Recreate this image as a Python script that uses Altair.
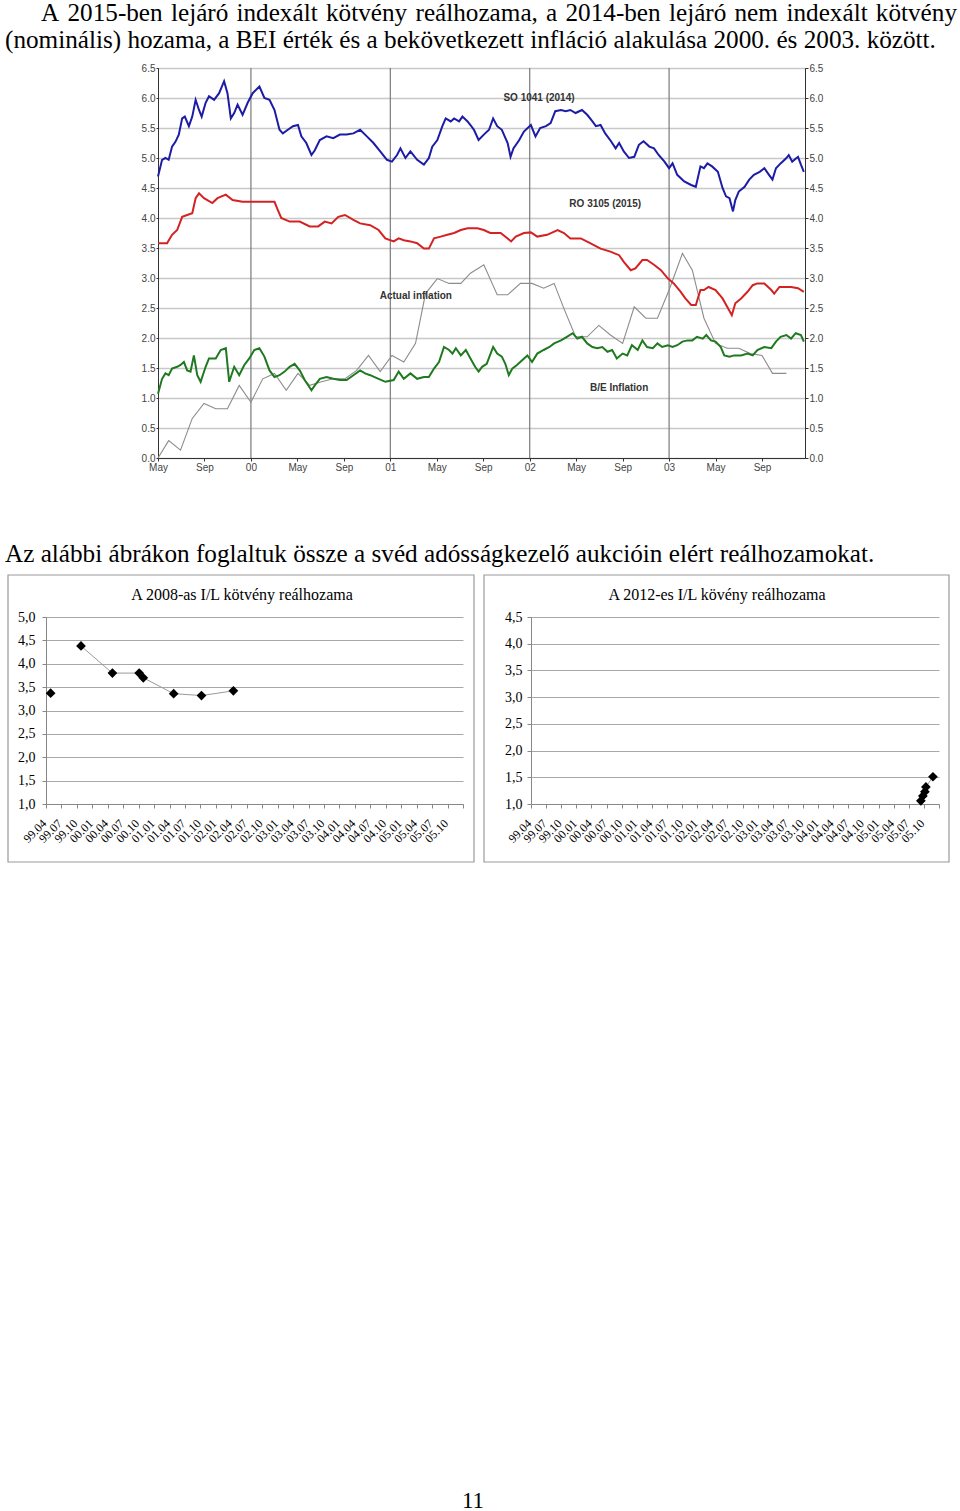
import json
import altair as alt
import pandas as pd

# ---------------- top chart data (x = months since May 1999) ----------------
blue_m = [0, 0.35, 0.64, 0.92, 1.21, 1.5, 1.79, 2.08, 2.31, 2.66, 2.95, 3.24, 3.53, 3.76, 4.10,
          4.39, 4.83, 5.26, 5.69, 5.98, 6.27, 6.56, 6.85, 7.28, 7.72, 8.15, 8.73, 9.16, 9.60, 10.03,
          10.46, 10.75, 11.18, 11.62, 12.05, 12.34, 12.77, 13.21, 13.50, 13.93, 14.51, 15.09, 15.66,
          16.24, 16.82, 17.40, 17.98, 18.55, 19.13, 19.71, 20.14, 20.58, 20.87, 21.30, 21.73, 22.31,
          22.89, 23.32, 23.61, 24.05, 24.48, 24.77, 25.20, 25.49, 25.92, 26.21, 26.65,
          26.9, 27.2, 27.6, 28.05, 28.5, 28.85, 29.2, 29.6, 30.1, 30.35, 30.6, 31.1, 31.5, 32.1, 32.5,
          32.9, 33.4, 33.8, 34.2, 34.7, 35.1, 35.5, 35.95, 36.5, 36.95, 37.4, 37.7, 38.1, 38.5, 39.0,
          39.4, 39.7, 40.1, 40.55, 41.0, 41.4, 41.8, 42.3, 42.7, 43.1, 43.6, 44.0, 44.3, 44.7, 45.3,
          45.9, 46.3, 46.7, 47.0, 47.3, 47.7, 48.2, 48.6, 48.9, 49.2, 49.5, 49.7, 50.0, 50.5, 50.9,
          51.3, 51.8, 52.2, 52.6, 52.9, 53.2, 53.6, 54.1, 54.3, 54.6, 55.1, 55.35, 55.6]
blue_v = [4.69, 4.97, 5.0, 4.97, 5.19, 5.27, 5.39, 5.66, 5.69, 5.53, 5.69, 5.97, 5.80, 5.69, 5.92,
          6.03, 5.97, 6.08, 6.28, 6.08, 5.66, 5.75, 5.89, 5.72, 5.92, 6.08, 6.19, 6.0, 5.97, 5.80,
          5.47, 5.41, 5.47, 5.53, 5.55, 5.36, 5.25, 5.05, 5.13, 5.30, 5.36, 5.33, 5.39,
          5.39, 5.41, 5.47, 5.36, 5.25, 5.11, 4.97, 4.94, 5.05, 5.16, 5.0, 5.11, 4.97,
          4.89, 5.0, 5.19, 5.30, 5.53, 5.66, 5.61, 5.66, 5.61, 5.69, 5.61,
          5.55, 5.47, 5.30, 5.39, 5.47, 5.66, 5.53, 5.47, 5.25, 5.02, 5.16, 5.30, 5.44, 5.55, 5.36,
          5.50, 5.53, 5.58, 5.78, 5.80, 5.78, 5.80, 5.75, 5.80, 5.72, 5.61, 5.53, 5.55, 5.41, 5.28,
          5.16, 5.25, 5.11, 5.0, 5.02, 5.22, 5.28, 5.19, 5.16, 5.05, 4.94, 4.83, 4.91, 4.72, 4.61,
          4.55, 4.52, 4.86, 4.83, 4.91, 4.86, 4.77, 4.50, 4.36, 4.33, 4.11, 4.30, 4.44, 4.52, 4.64,
          4.72, 4.77, 4.83, 4.72, 4.64, 4.83, 4.91, 5.0, 5.05, 4.94, 5.02, 4.89, 4.77]

red_m = [0, 0.78, 1.21, 1.65, 2.08, 2.51, 2.95, 3.24, 3.53, 3.96, 4.68, 5.12, 5.84, 6.42, 7.28,
         8.15, 9.02, 10.03, 10.32, 10.61, 11.33, 12.2, 13.06, 13.79, 14.36, 14.94, 15.52, 16.1,
         16.82, 17.4, 18.27, 18.99, 19.57, 20.29, 20.72, 21.16, 21.73, 22.31, 22.89, 23.32, 23.76,
         24.34, 24.91, 25.49, 26.07, 26.65,
         27.5, 28.05, 28.6, 29.5, 30.1, 30.4, 30.8, 31.5, 32.1, 32.65, 33.5, 34.4, 34.95, 35.5,
         36.4, 37.2, 38.1, 38.95, 39.7, 40.1, 40.7, 41.1, 41.7, 42.1, 42.7, 43.3, 43.9, 44.4, 45.0,
         45.4, 45.9, 46.3, 46.7, 47.0, 47.4, 48.0, 48.6, 49.0, 49.4, 49.7, 50.2, 50.75, 51.2, 51.6,
         52.2, 52.8, 53.05, 53.5, 54.1, 54.5, 55.1, 55.6]
red_v = [3.58, 3.58, 3.72, 3.80, 4.02, 4.05, 4.08, 4.33, 4.41, 4.33, 4.25, 4.33, 4.39, 4.30, 4.27,
         4.27, 4.27, 4.27, 4.13, 4.0, 3.94, 3.94, 3.86, 3.86, 3.94, 3.91, 4.02, 4.05,
         3.97, 3.91, 3.88, 3.80, 3.66, 3.61, 3.66, 3.63, 3.61, 3.58, 3.49, 3.49, 3.66,
         3.69, 3.72, 3.75, 3.80, 3.83,
         3.83, 3.80, 3.75, 3.75, 3.66, 3.61, 3.69, 3.75, 3.76, 3.69, 3.72, 3.80, 3.75, 3.66,
         3.66, 3.58, 3.49, 3.44, 3.38, 3.27, 3.13, 3.16, 3.30, 3.30, 3.22, 3.13, 2.99, 2.91, 2.77,
         2.66, 2.55, 2.55, 2.80, 2.80, 2.85, 2.80, 2.66, 2.52, 2.38, 2.58, 2.66, 2.77, 2.88, 2.91,
         2.91, 2.80, 2.74, 2.85, 2.85, 2.85, 2.83, 2.77]

green_m = [0, 0.35, 0.64, 0.92, 1.21, 1.65, 1.94, 2.23, 2.51, 2.8, 3.09, 3.38, 3.67, 4.10, 4.39,
           4.97, 5.40, 5.84, 6.13, 6.56, 6.99, 7.43, 7.86, 8.29, 8.73, 9.16, 9.6, 10.03, 10.46, 10.9,
           11.33, 11.76, 12.2, 12.63, 13.21, 13.5, 13.93, 14.51, 15.09, 15.66, 16.24, 16.82, 17.4,
           17.83, 18.27, 18.99, 19.57, 20.29, 20.72, 21.16, 21.73, 22.31, 22.89, 23.32, 23.76,
           24.19, 24.62, 25.06, 25.35, 25.64, 26.07, 26.5,
           26.9, 27.3, 27.6, 27.9, 28.3, 28.85, 29.2, 29.6, 29.9, 30.2, 30.5, 30.9, 31.35, 31.8, 32.2,
           32.65, 33.2, 33.7, 34.1, 34.7, 35.2, 35.7, 36.1, 36.5, 36.95, 37.4, 37.8, 38.25, 38.7, 39.1,
           39.5, 40.0, 40.4, 40.8, 41.3, 41.7, 42.1, 42.6, 43.0, 43.4, 43.9, 44.3, 44.7, 45.15, 45.6,
           46.0, 46.4, 46.9, 47.2, 47.6, 48.0, 48.45, 48.75, 49.2, 49.6, 50.2, 50.75, 51.2, 51.6, 52.2,
           52.8, 53.2, 53.6, 54.1, 54.5, 54.9, 55.35, 55.6]
green_v = [1.07, 1.32, 1.41, 1.38, 1.49, 1.52, 1.55, 1.60, 1.46, 1.44, 1.71, 1.38, 1.27, 1.52, 1.66,
           1.66, 1.80, 1.83, 1.27, 1.52, 1.38, 1.55, 1.66, 1.80, 1.83, 1.69, 1.46, 1.35, 1.38, 1.44,
           1.52, 1.57, 1.46, 1.30, 1.13, 1.21, 1.32, 1.35, 1.32, 1.30, 1.30, 1.38, 1.46,
           1.41, 1.38, 1.32, 1.27, 1.30, 1.44, 1.32, 1.41, 1.32, 1.35, 1.35, 1.49,
           1.60, 1.85, 1.80, 1.74, 1.83, 1.71, 1.80,
           1.66, 1.52, 1.44, 1.52, 1.57, 1.85, 1.74, 1.69, 1.57, 1.38, 1.49, 1.55, 1.63, 1.71, 1.60,
           1.74, 1.80, 1.85, 1.91, 1.96, 2.02, 2.08, 1.99, 2.02, 1.91, 1.85, 1.83, 1.85, 1.77, 1.80,
           1.66, 1.74, 1.71, 1.88, 1.80, 1.96, 1.85, 1.83, 1.91, 1.85, 1.88, 1.85, 1.88, 1.94, 1.96,
           1.96, 2.02, 1.99, 2.05, 1.96, 1.94, 1.85, 1.71, 1.69, 1.71, 1.71, 1.74, 1.71, 1.80, 1.85,
           1.83, 1.94, 2.02, 2.05, 1.99, 2.08, 2.05, 1.94]

gray_m = [0, 0.92, 1.94, 2.95, 3.96, 4.97, 5.98, 6.99, 8.0, 9.02, 10.03, 11.04, 12.05, 13.06, 14.08,
          15.09, 16.1, 17.1, 18.12, 19.13, 20.14, 21.16, 22.17, 23.03, 24.05, 25.06, 26.07,
          26.9, 28.05, 29.2, 30.1, 31.2, 32.2, 33.2, 34.1, 34.95, 35.95, 36.95, 37.95, 38.95, 40.0,
          41.0, 42.0, 43.0, 44.0, 45.15, 46.0, 47.0, 48.0, 49.0, 50.0, 51.0, 52.0, 52.9, 54.1]
gray_v = [0.0, 0.29, 0.13, 0.66, 0.91, 0.82, 0.82, 1.21, 0.93, 1.32, 1.41, 1.13, 1.41, 1.21, 1.27,
          1.32, 1.32, 1.46, 1.71, 1.44, 1.71, 1.60, 1.91, 2.74, 2.99, 2.91, 2.91,
          3.08, 3.22, 2.72, 2.72, 2.91, 2.91, 2.83, 2.91, 2.49, 2.02, 2.02, 2.21, 2.05, 1.91,
          2.52, 2.33, 2.33, 2.80, 3.41, 3.13, 2.33, 1.91, 1.83, 1.83, 1.74, 1.71, 1.41, 1.41]

top_tick_months = [0, 4, 8, 12, 16, 20, 24, 28, 32, 36, 40, 44, 48, 52]
top_tick_labels = ["May", "Sep", "00", "May", "Sep", "01", "May", "Sep", "02", "May", "Sep", "03", "May", "Sep"]
year_starts = [8, 20, 32, 44]
top_y_ticks = [0, 0.5, 1, 1.5, 2, 2.5, 3, 3.5, 4, 4.5, 5, 5.5, 6, 6.5]

annot_text = ["SO 1041 (2014)", "RO 3105 (2015)", "Actual inflation", "B/E Inflation"]
annot_m = [32.8, 38.5, 22.2, 39.7]
annot_v = [6.0, 4.23, 2.70, 1.16]

# ---------------- small charts data (x = months since 1999.04) ----------------
small_tick_labels = ["99.04", "99.07", "99.10", "00.01", "00.04", "00.07", "00.10", "01.01", "01.04",
                     "01.07", "01.10", "02.01", "02.04", "02.07", "02.10", "03.01", "03.04", "03.07",
                     "03.10", "04.01", "04.04", "04.07", "04.10", "05.01", "05.04", "05.07", "05.10"]
quarter_bounds = list(range(0, 82, 3))

c1_m = [0.9, 6.8, 12.9, 18.1, 18.9, 24.8, 30.2, 36.4]
c1_v = [3.37, 4.38, 3.80, 3.80, 3.70, 3.36, 3.32, 3.42]
c1_seg = [0, 1, 1, 1, 1, 1, 1, 1]
c1_y_ticks = [1.0, 1.5, 2.0, 2.5, 3.0, 3.5, 4.0, 4.5, 5.0]

c2_m = [77.4, 77.8, 78.2, 78.4, 79.8]
c2_v = [1.06, 1.15, 1.23, 1.32, 1.51]
c2_seg = [0, 0, 0, 0, 0]
c2_y_ticks = [1.0, 1.5, 2.0, 2.5, 3.0, 3.5, 4.0, 4.5]

# ---------------- page texts ----------------
heading_1_words = ["A", "2015-ben", "lejáró", "indexált", "kötvény", "reálhozama,", "a",
                   "2014-ben", "lejáró", "nem", "indexált", "kötvény"]
heading_1_left = [41, 67.5, 171, 236.5, 326, 415.5, 546, 565.5, 669, 734.5, 786.5]  # justified line
heading_2 = "(nominális) hozama, a BEI érték és a bekövetkezett infláció alakulása 2000. és 2003. között."
mid_text = "Az alábbi ábrákon foglaltuk össze a svéd adósságkezelő aukcióin elért reálhozamokat."
title_1 = "A 2008-as I/L kötvény reálhozama"
title_2 = "A 2012-es I/L kövény reálhozama"
page_no = "11"

SANS = "Liberation Sans"
SERIF = "Liberation Serif"
BODY = 25.2


def js_list(lst):
    return json.dumps(lst).replace('"', "'")


def spacer(w, h=1):
    return alt.Chart(pd.DataFrame({"a": [0]})).mark_point(opacity=0).properties(width=w, height=h)


def text_layer(txt, x, y, align="left", size=BODY, font=SERIF, baseline="alphabetic"):
    return alt.Chart(pd.DataFrame({"t": [txt]})).mark_text(
        align=align, baseline=baseline, font=font, fontSize=size, color="black"
    ).encode(x=alt.value(x), y=alt.value(y), text="t:N")


# ---------------- top chart ----------------
x_top = alt.X(
    "m:Q",
    scale=alt.Scale(domain=[0, 55.7], nice=False, zero=False),
    axis=alt.Axis(values=top_tick_months,
                  labelExpr=f"{js_list(top_tick_labels)}[round(datum.value / 4)]",
                  grid=False, title=None, domainColor="#333333", tickColor="#333333",
                  tickSize=3, labelPadding=1, labelFont=SANS, labelFontSize=10,
                  labelColor="#444444", labelFlush=False, labelOverlap=False),
)
y_scale_top = alt.Scale(domain=[0, 6.5], nice=False, zero=True)
y_top = alt.Y(
    "v:Q", scale=y_scale_top,
    axis=alt.Axis(values=top_y_ticks, format=".1f", title=None, grid=True, gridColor="#c8c8c8",
                  gridWidth=1.5, domainColor="#333333", tickColor="#333333", tickSize=2,
                  labelPadding=1, labelFont=SANS, labelFontSize=10, labelColor="#444444",
                  labelFlush=False, labelOverlap=False),
)
y_top_right = alt.Y(
    "v:Q", scale=y_scale_top,
    axis=alt.Axis(orient="right", values=top_y_ticks, format=".1f", title=None, grid=False,
                  domainColor="#333333", tickColor="#333333", tickSize=3, labelPadding=1,
                  labelFont=SANS, labelFontSize=10, labelColor="#444444", labelFlush=False,
                  labelOverlap=False),
)

df_blue = pd.DataFrame({"m": blue_m, "v": blue_v})
df_red = pd.DataFrame({"m": red_m, "v": red_v})
df_green = pd.DataFrame({"m": green_m, "v": green_v})
df_gray = pd.DataFrame({"m": gray_m, "v": gray_v})
df_annot = pd.DataFrame({"m": annot_m, "v": annot_v, "t": annot_text})


def top_line(df, color, width):
    return alt.Chart(df).mark_line(color=color, strokeWidth=width).encode(x=x_top, y=y_top)


rules = alt.Chart(pd.DataFrame({"m": year_starts})).mark_rule(
    color="#7a7a7a", strokeWidth=1.2).encode(x=x_top)
annots = alt.Chart(df_annot).mark_text(
    font=SANS, fontWeight="bold", fontSize=10, color="#333333"
).encode(x=x_top, y=y_top, text="t:N")

inner = alt.layer(
    rules,
    top_line(df_gray, "#8c8c8c", 1.1),
    top_line(df_green, "#1f7a1f", 2),
    top_line(df_red, "#d42222", 2),
    top_line(df_blue, "#1c1ca6", 2),
    annots,
)
right_axis = alt.Chart(df_blue).mark_point(opacity=0).encode(x=x_top, y=y_top_right)
top_chart = alt.layer(inner, right_axis).resolve_scale(y="independent").properties(
    width=647, height=390, view=alt.ViewBackground(stroke="#333333", strokeWidth=1)
)


# ---------------- small charts ----------------
def small_chart(m, v, seg, ydom, yticks, title, title_x, box, ypad, width):
    df = pd.DataFrame({"m": m, "v": v, "seg": seg})
    xs = alt.X(
        "m:Q", scale=alt.Scale(domain=[0, 81], nice=False, zero=False),
        axis=alt.Axis(values=quarter_bounds,
                      labelExpr=f"datum.value >= 81 ? '' : {js_list(small_tick_labels)}[floor(datum.value / 3 + 0.01)]",
                      labelAngle=315, labelAlign="right", labelBaseline="middle", labelOffset=-2,
                      labelPadding=13, tickSize=4, tickColor="#888888", domainColor="#888888",
                      grid=False, title=None, labelFont=SERIF, labelFontSize=12, labelColor="black",
                      labelFlush=False, labelOverlap=False),
    )
    ys = alt.Y(
        "v:Q", scale=alt.Scale(domain=ydom, nice=False, zero=False),
        axis=alt.Axis(values=yticks,
                      labelExpr="replace(format(datum.value, '.1f'), '.', ',')",
                      grid=True, gridColor="#a8a8a8", gridWidth=1, domainColor="#888888",
                      tickColor="#888888", tickSize=4, labelPadding=ypad, title=None,
                      labelFont=SERIF, labelFontSize=14, labelColor="black",
                      labelFlush=False, labelOverlap=False),
    )
    frame = alt.Chart(pd.DataFrame({"a": [0]})).mark_rect(
        fillOpacity=0, stroke="#9a9a9a", strokeWidth=1.2
    ).encode(x=alt.value(box[0]), x2=alt.value(box[1]), y=alt.value(box[2]), y2=alt.value(box[3]))
    head = text_layer(title, title_x, -17, align="center", size=16)
    line = alt.Chart(df).mark_line(color="#9a9a9a", strokeWidth=1).encode(x=xs, y=ys, detail="seg:N")
    pts = alt.Chart(df).mark_point(shape="diamond", filled=True, size=95, color="black", opacity=1).encode(x=xs, y=ys)
    return alt.layer(frame, head, line, pts).properties(width=width, height=187)


chart1 = small_chart(c1_m, c1_v, c1_seg, [1.0, 5.0], c1_y_ticks, title_1, 196,
                     (-38, 428, -42, 245), 7, 417)
chart2 = small_chart(c2_m, c2_v, c2_seg, [1.0, 4.5], c2_y_ticks, title_2, 186,
                     (-47, 418, -42, 245), 5, 408)

# ---------------- page layout ----------------
heading_layers = [text_layer(w, x, 21) for w, x in zip(heading_1_words[:-1], heading_1_left)]
heading_layers.append(text_layer(heading_1_words[-1], 957, 21, align="right"))
heading_layers.append(text_layer(heading_2, 5, 48))
row1 = alt.layer(*heading_layers).properties(width=960, height=68)

# nested concat rows take no height in a flush layout, so a spacer row follows each one
row2 = alt.hconcat(spacer(158, 390), top_chart, spacing=0, bounds="flush")
row2_space = spacer(10, 390)

row3 = text_layer(mid_text, 5, 104).properties(width=960, height=159)

row4 = alt.hconcat(spacer(46, 187), chart1, spacer(68, 187), chart2, spacing=0, bounds="flush")
row4_space = spacer(10, 187)

row5 = text_layer(page_no, 473, 697, align="center", size=23, baseline="middle").properties(
    width=960, height=707)

chart = alt.vconcat(row1, row2, row2_space, row3, row4, row4_space, row5,
                    spacing=0, bounds="flush").properties(
    padding=0
).configure(background="white").configure_view(strokeWidth=0)

chart.save("out.html", embed_options={"renderer": "svg", "actions": False})
